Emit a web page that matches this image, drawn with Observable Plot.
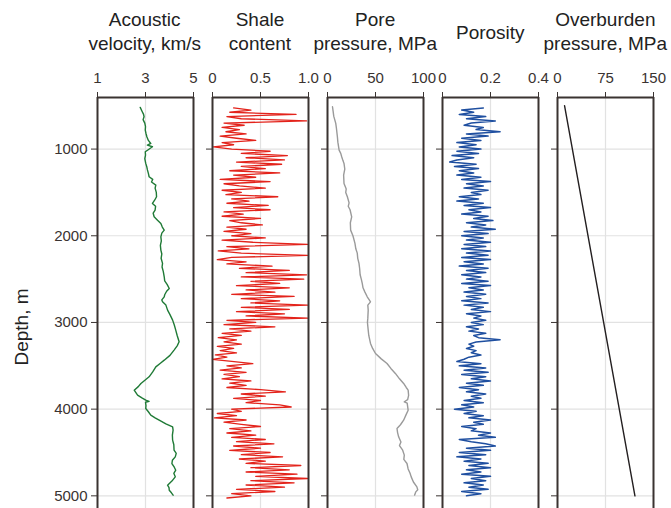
<!DOCTYPE html>
<html><head><meta charset="utf-8">
<script src="https://cdn.jsdelivr.net/npm/d3@7"></script>
<script src="https://cdn.jsdelivr.net/npm/@observablehq/plot@0.6"></script>
<style>
body{margin:0;background:#fff;font-family:"Liberation Sans",Arial,sans-serif;}
#fig{position:relative;width:671px;height:508px;overflow:hidden;background:#fff;}
.panel{position:absolute;top:0;}
.title{position:absolute;width:220px;text-align:center;font-size:19px;line-height:24px;color:#222;white-space:nowrap;}
.ylab{position:absolute;font-size:19px;color:#222;white-space:nowrap;transform:translate(-50%,-50%) rotate(-90deg);}
</style></head>
<body><div id="fig"></div>
<script>
// ---------- data ----------
const depthTicks = [1000, 2000, 3000, 4000, 5000];

const velTicks = [1, 3, 5];
const velTickLabels = ["1", "3", "5"];
const velDepth = [519,560,600,627,660,700,740,781,820,860,900,935,955,973,990,1010,1031,1070,1110,1165,1200,1240,1280,1319,1350,1380,1415,1450,1500,1550,1590,1627,1660,1704,1740,1781,1820,1858,1900,1935,1970,2012,2060,2110,2165,2210,2260,2319,2360,2410,2473,2520,2560,2608,2640,2680,2704,2740,2762,2800,2858,2910,2973,3030,3088,3150,3223,3270,3319,3380,3435,3470,3512,3570,3627,3660,3704,3740,3781,3810,3838,3870,3896,3910,3920,3960,3992,4030,4069,4100,4127,4170,4204,4242,4300,4358,4410,4473,4510,4550,4590,4627,4670,4704,4740,4781,4830,4877,4905,4935,4965,4992];
const velValue = [2.78,2.85,2.92,2.94,2.90,2.97,3.00,2.99,3.02,3.06,3.12,3.22,3.08,3.29,3.20,3.10,2.99,3.00,2.97,3.01,3.05,3.08,3.12,3.15,3.30,3.25,3.43,3.40,3.45,3.46,3.38,3.29,3.42,3.40,3.32,3.36,3.50,3.64,3.70,3.78,3.68,3.64,3.66,3.62,3.64,3.68,3.65,3.71,3.69,3.74,3.78,3.80,3.90,3.99,3.88,3.80,3.78,3.68,3.71,3.85,3.92,4.02,4.13,4.20,4.26,4.32,4.40,4.32,4.19,4.02,3.78,3.62,3.43,3.30,3.15,3.00,2.81,2.70,2.53,2.60,2.67,2.85,3.01,3.15,3.00,3.02,3.01,3.12,3.22,3.40,3.57,3.85,4.13,4.15,4.12,4.13,4.18,4.19,4.28,4.24,4.12,4.10,4.20,4.26,4.18,4.24,4.10,3.92,3.98,3.99,4.08,4.15];

const shaleTicks = [0, 0.5, 1];
const shaleTickLabels = ["0", "0.5", "1.0"];
const shaleDepth = [
525,550,575,600,625,650,675,700,725,750,
775,800,825,850,875,900,925,950,975,1000,
1025,1050,1075,1100,1125,1150,1175,1200,1225,1250,
1275,1300,1325,1350,1375,1400,1425,1450,1475,1500,
1525,1550,1575,1600,1625,1650,1675,1700,1725,1750,
1775,1800,1825,1850,1875,1900,1925,1950,1975,2000,
2025,2050,2075,2100,2125,2150,2175,2200,2225,2250,
2275,2300,2325,2350,2375,2400,2425,2450,2475,2500,
2525,2550,2575,2600,2625,2650,2675,2700,2725,2750,
2775,2800,2825,2850,2875,2900,2925,2950,2975,3000,
3025,3050,3075,3100,3125,3150,3175,3200,3225,3250,
3275,3300,3325,3350,3375,3400,3425,3450,3475,3500,
3525,3550,3575,3600,3625,3650,3675,3700,3725,3750,
3775,3800,3825,3850,3875,3900,3925,3950,3975,4000,
4025,4050,4075,4100,4125,4150,4175,4200,4225,4250,
4275,4300,4325,4350,4375,4400,4425,4450,4475,4500,
4525,4550,4575,4600,4625,4650,4675,4700,4725,4750,
4775,4800,4825,4850,4875,4900,4925,4950,4975,5000,
5025];
const shaleValue = [
0.22,0.40,0.18,0.87,0.15,0.30,0.98,0.12,0.33,0.10,
0.28,0.14,0.35,0.08,0.25,0.45,0.10,0.22,0.01,0.20,
0.60,0.30,0.78,0.35,0.75,0.25,0.72,0.30,0.55,0.18,
0.70,0.22,0.45,0.08,0.60,0.12,0.28,0.55,0.10,0.30,
0.14,0.68,0.20,0.38,0.15,0.58,0.22,0.60,0.12,0.32,
0.10,0.50,0.18,0.30,0.52,0.15,0.35,0.12,0.40,0.20,
0.55,0.10,0.42,0.99,0.15,0.38,0.06,0.30,0.99,0.20,
0.05,0.35,0.15,0.62,0.28,0.80,0.35,0.98,0.30,0.95,
0.40,0.70,0.25,0.80,0.35,0.65,0.20,0.85,0.30,0.70,
0.40,0.99,0.30,0.80,0.25,0.75,0.35,0.99,0.15,0.45,
0.12,0.65,0.18,0.40,0.10,0.30,0.06,0.25,0.12,0.30,
0.05,0.22,0.08,0.25,0.03,0.15,0.00,0.20,0.42,0.15,
0.30,0.08,0.35,0.12,0.28,0.10,0.40,0.18,0.35,0.15,
0.50,0.76,0.30,0.55,0.22,0.50,0.35,0.70,0.82,0.20,
0.30,0.05,0.25,0.02,0.35,0.12,0.30,0.50,0.18,0.40,
0.15,0.45,0.20,0.55,0.25,0.64,0.22,0.50,0.18,0.60,
0.30,0.73,0.28,0.55,0.35,0.92,0.40,0.80,0.35,0.88,
0.45,0.99,0.40,0.85,0.35,0.75,0.25,0.65,0.20,0.40,
0.15];

const poreTicks = [0, 50, 100];
const poreTickLabels = ["0", "50", "100"];
const poreDepth = [512,560,620,704,760,858,920,1012,1050,1088,1130,1165,1230,1300,1396,1460,1500,1550,1620,1660,1700,1781,1850,1935,2000,2088,2150,2200,2260,2319,2380,2450,2500,2550,2600,2650,2704,2740,2762,2800,2858,2950,3000,3088,3150,3242,3300,3358,3420,3473,3530,3588,3650,3704,3750,3781,3840,3890,3915,3930,4012,4060,4127,4180,4223,4270,4319,4380,4420,4473,4530,4580,4627,4690,4740,4781,4840,4896,4930,4954,4992];
const poreValue = [5.2,5.8,6.5,8.6,9.3,10.3,10.8,12.1,13.8,14.8,16.0,17.2,18.0,16.8,17.2,19.5,19.0,20.7,22.5,21.6,23.5,25.2,23.8,24.1,26.5,28.6,29.5,31.0,31.5,32.8,33.5,34.0,35.2,36.2,37.0,39.0,41.4,43.5,44.8,42.0,42.4,42.0,41.6,42.4,43.0,44.8,47.0,50.0,56.0,62.0,66.0,70.7,75.0,79.3,82.0,84.0,84.5,83.5,80.0,83.0,84.0,82.0,79.3,76.0,72.4,73.0,74.1,76.5,75.0,78.3,80.0,79.5,82.8,84.0,86.0,87.2,89.5,93.1,94.0,92.0,90.7];

const porTicks = [0, 0.2, 0.4];
const porTickLabels = ["0", "0.2", "0.4"];
const porDepth = [
525,550,575,600,625,650,675,700,725,750,
775,800,825,850,875,900,925,950,975,1000,
1025,1050,1075,1100,1125,1150,1175,1200,1225,1250,
1275,1300,1325,1350,1375,1400,1425,1450,1475,1500,
1525,1550,1575,1600,1625,1650,1675,1700,1725,1750,
1775,1800,1825,1850,1875,1900,1925,1950,1975,2000,
2025,2050,2075,2100,2125,2150,2175,2200,2225,2250,
2275,2300,2325,2350,2375,2400,2425,2450,2475,2500,
2525,2550,2575,2600,2625,2650,2675,2700,2725,2750,
2775,2800,2825,2850,2875,2900,2925,2950,2975,3000,
3025,3050,3075,3100,3125,3150,3175,3200,3225,3250,
3275,3300,3325,3350,3375,3400,3425,3450,3475,3500,
3525,3550,3575,3600,3625,3650,3675,3700,3725,3750,
3775,3800,3825,3850,3875,3900,3925,3950,3975,4000,
4025,4050,4075,4100,4125,4150,4175,4200,4225,4250,
4275,4300,4325,4350,4375,4400,4425,4450,4475,4500,
4525,4550,4575,4600,4625,4650,4675,4700,4725,4750,
4775,4800,4825,4850,4875,4900,4925,4950,4975,5000];
const porValue = [
0.17,0.08,0.13,0.07,0.18,0.10,0.22,0.12,0.09,0.17,
0.14,0.24,0.10,0.19,0.08,0.16,0.06,0.14,0.07,0.16,
0.06,0.15,0.04,0.13,0.06,0.03,0.14,0.05,0.15,0.07,
0.13,0.06,0.16,0.08,0.20,0.10,0.17,0.09,0.19,0.12,
0.16,0.07,0.15,0.06,0.17,0.09,0.20,0.11,0.16,0.08,
0.19,0.13,0.21,0.10,0.18,0.12,0.22,0.09,0.19,0.08,
0.17,0.10,0.20,0.09,0.18,0.08,0.20,0.10,0.19,0.08,
0.20,0.09,0.17,0.07,0.19,0.10,0.18,0.08,0.16,0.10,
0.19,0.08,0.20,0.11,0.17,0.09,0.18,0.10,0.16,0.08,
0.19,0.09,0.17,0.12,0.20,0.10,0.16,0.13,0.18,0.12,
0.17,0.10,0.15,0.11,0.18,0.13,0.15,0.24,0.14,0.11,
0.13,0.10,0.14,0.12,0.16,0.11,0.09,0.06,0.16,0.07,
0.18,0.09,0.19,0.08,0.18,0.12,0.20,0.10,0.17,0.07,
0.15,0.10,0.18,0.12,0.16,0.09,0.17,0.08,0.13,0.05,
0.14,0.09,0.17,0.11,0.20,0.13,0.17,0.08,0.14,0.12,
0.20,0.15,0.22,0.07,0.12,0.18,0.22,0.10,0.20,0.07,
0.18,0.06,0.16,0.09,0.19,0.11,0.20,0.10,0.16,0.08,
0.20,0.12,0.18,0.09,0.17,0.11,0.19,0.08,0.16,0.10];

const obTicks = [0, 75, 150];
const obTickLabels = ["0", "75", "150"];
const obDepth = [500, 5000];
const obValue = [11, 121];

// ---------- layout ----------
const yDomain = [405, 5146];
const frameW = 96;
const ML = 12, MR = 12;
const ink = "#3a3331";
const panels = [
  {title: ["Acoustic", "velocity, km/s"], left: 96.7, domain: [1, 5], ticks: velTicks, labels: velTickLabels, depth: velDepth, values: velValue, color: "#1f7a36", sw: 1.4},
  {title: ["Shale", "content"], left: 212, domain: [0, 1], ticks: shaleTicks, labels: shaleTickLabels, depth: shaleDepth, values: shaleValue, color: "#e3231b", sw: 1.3},
  {title: ["Pore", "pressure, MPa"], left: 327.2, domain: [0, 100], ticks: poreTicks, labels: poreTickLabels, depth: poreDepth, values: poreValue, color: "#9a9a9a", sw: 1.4},
  {title: ["Porosity"], left: 442.3, domain: [0, 0.4], ticks: porTicks, labels: porTickLabels, depth: porDepth, values: porValue, color: "#1f4fa0", sw: 1.5},
  {title: ["Overburden", "pressure, MPa"], left: 557.3, domain: [0, 150], ticks: obTicks, labels: obTickLabels, depth: obDepth, values: obValue, color: "#231f20", sw: 1.4}
];

const fig = document.getElementById("fig");

panels.forEach((p, k) => {
  const rows = p.depth.map((d, i) => ({depth: d, value: p.values[i]}));
  const first = k === 0;
  const plot = Plot.plot({
    width: ML + frameW + MR,
    height: 508,
    marginTop: 97,
    marginBottom: 0,
    marginLeft: ML,
    marginRight: MR,
    style: {background: "transparent", overflow: "visible", fontFamily: "'Liberation Sans', Arial, sans-serif", fontSize: "15px", color: ink},
    x: {domain: p.domain, axis: "top", ticks: p.ticks, tickFormat: (d, i) => p.labels[i], tickSize: 6, tickPadding: 9, label: null},
    y: {domain: yDomain, reverse: true, axis: "left", ticks: depthTicks, tickFormat: first ? (d => String(d)) : (d => ""), tickSize: 6, tickPadding: 4, label: null},
    marks: [
      Plot.ruleY(depthTicks, {stroke: "#e2e2e2", strokeWidth: 1.2}),
      Plot.ruleX([p.ticks[1]], {stroke: "#e2e2e2", strokeWidth: 1.2}),
      Plot.line(rows, {x: "value", y: "depth", stroke: p.color, strokeWidth: p.sw}),
      Plot.ruleX(p.domain, {stroke: ink, strokeWidth: 2}),
      Plot.ruleY([yDomain[0]], {stroke: ink, strokeWidth: 2})
    ]
  });
  const wrap = document.createElement("div");
  wrap.className = "panel";
  wrap.style.left = (p.left - ML) + "px";
  wrap.appendChild(plot);
  fig.appendChild(wrap);

  const t = document.createElement("div");
  t.className = "title";
  const cx = p.left + frameW / 2;
  t.style.left = (cx - 110) + "px";
  t.style.top = (p.title.length === 1 ? 21 : 8) + "px";
  t.innerHTML = p.title.join("<br>");
  fig.appendChild(t);
});

const yl = document.createElement("div");
yl.className = "ylab";
yl.style.left = "22px";
yl.style.top = "327px";
yl.textContent = "Depth, m";
fig.appendChild(yl);
</script>
</body></html>
